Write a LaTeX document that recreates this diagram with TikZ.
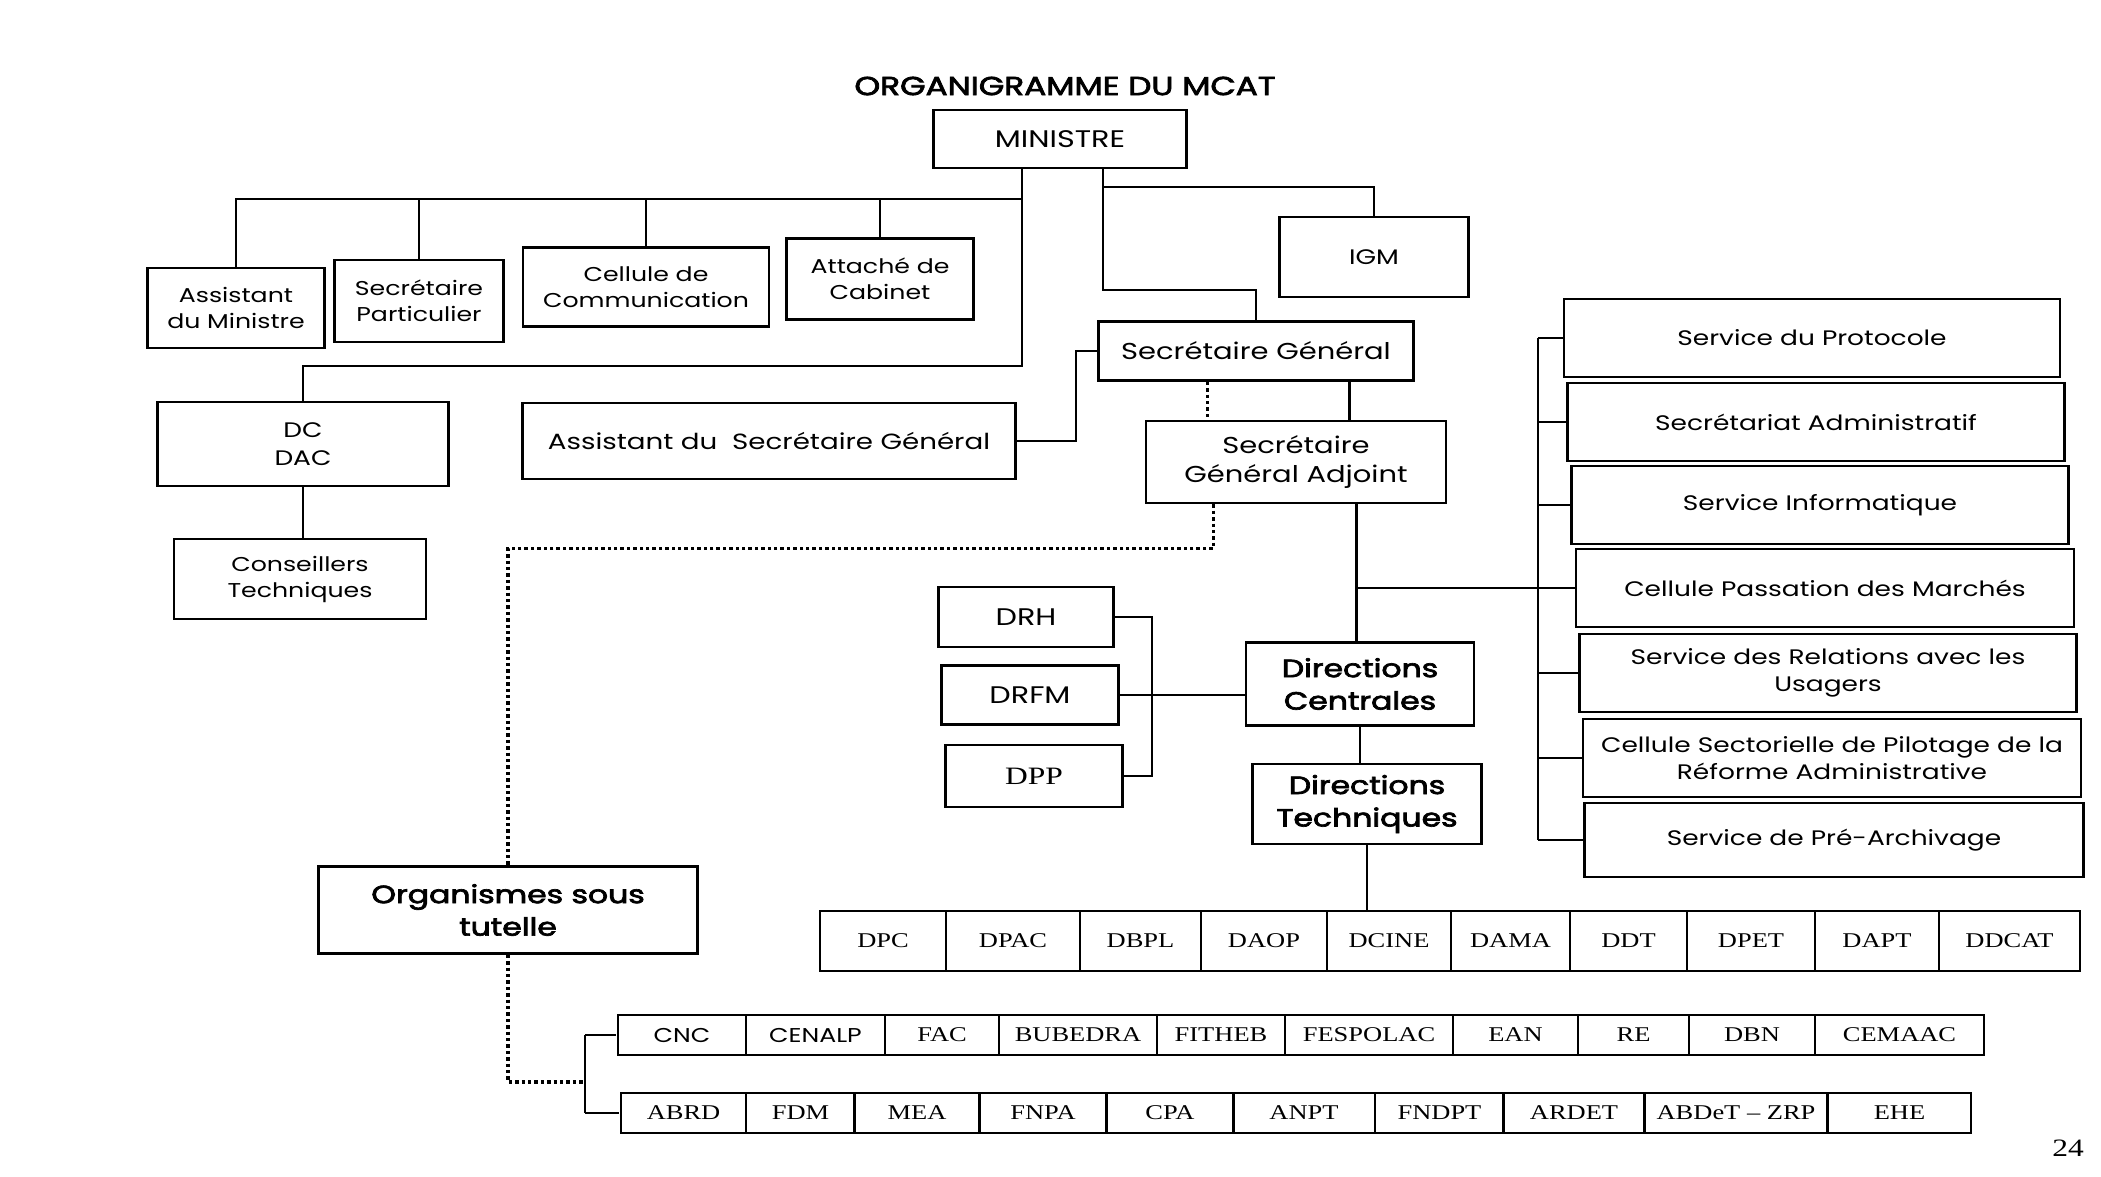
\documentclass[tikz,border=0pt]{standalone}
\usepackage{fontspec}
\setmainfont{Poppins}
\newfontfamily\mb{Poppins}[FakeBold=2.6]
\newfontfamily\tms{Liberation Serif}
\usetikzlibrary{calc}
\newcommand\fs[1]{\fontsize{#1}{\fpeval{1.3*#1}}\selectfont}
\begin{document}
\begin{tikzpicture}[x=0.7936508pt,y=-1pt,xscale=1.26,
  every node/.append style={transform shape},
  bx/.style={draw, line width=2.6pt, align=center, inner sep=0pt},
  wh/.style 2 args={minimum width={#1pt/1.26}, minimum height=#2pt},
  cell/.style={draw, line width=2.6pt, inner sep=0pt, minimum height=#1pt, font=\tms\fs{21}},
  scell/.style={cell=#1, font=\fs{20}},
  ln/.style={line width=2.2pt},
  dl/.style={line width=3.5pt, dash pattern=on 3.4pt off 3pt}]
\useasboundingbox (0,0) rectangle (2101,1176);
\fill[white] (0,0) rectangle (2101,1176);

% title and top
\node[font=\mb\fs{26}] (title) at (1065,86) {ORGANIGRAMME DU MCAT};
\node[bx, wh={253}{58}, font=\fs{24}] (min) at (1060,139) {MINISTRE};
\node[bx, wh={177}{80}, font=\fs{20}] (am) at (236,308) {Assistant\\du Ministre};
\node[bx, wh={169}{82}, font=\fs{20}] (sp) at (419,301) {Secrétaire\\Particulier};
\node[bx, wh={246}{79}, font=\fs{20}] (cc) at (646,287) {Cellule de\\Communication};
\node[bx, wh={187}{81}, font=\fs{20}] (ac) at (880,279) {Attaché de\\Cabinet};
\node[bx, wh={189}{80}, font=\fs{21}] (igm) at (1374,257) {IGM};
\node[bx, wh={291}{84}, font=\fs{21}] (dcdac) at (303,444) {DC\\DAC};
\node[bx, wh={252}{80}, font=\fs{20}] (ct) at (300,579) {Conseillers\\Techniques};
\node[bx, wh={493}{76}, font=\fs{22}] (asg) at (769,441) {Assistant du\ \ Secrétaire Général};
\node[bx, wh={315}{59}, font=\fs{23}] (sg) at (1256,351) {Secrétaire Général};
\node[bx, wh={300}{82}, font=\fs{23}] (sga) at (1296,462) {Secrétaire\\Général Adjoint};
\node[bx, wh={175}{60}, font=\fs{24}] (drh) at (1026,617) {DRH};
\node[bx, wh={177}{59}, font=\fs{24}] (drfm) at (1030,695) {DRFM};
\node[bx, wh={177}{62}, font=\tms\fs{25}] (dpp) at (1034,776) {DPP};
\node[bx, wh={228}{83}, font=\mb\fs{25}] (dc) at (1360,684) {Directions\\Centrales};
\node[bx, wh={229}{80}, font=\mb\fs{25}] (dt) at (1367,804) {Directions\\Techniques};
\node[bx, wh={379}{87}, font=\mb\fs{25}] (org) at (508,910) {Organismes sous\\tutelle};

% services
\node[bx, wh={496}{78}, font=\fs{21}] (s1) at (1812,338) {Service du Protocole};
\node[bx, wh={497}{78}, font=\fs{21}] (s2) at (1816,422) {Secrétariat Administratif};
\node[bx, wh={497}{78}, font=\fs{21}] (s3) at (1820,505) {Service Informatique};
\node[bx, wh={498}{78}, font=\fs{21}] (s4) at (1825,588) {Cellule Passation des Marchés};
\node[bx, wh={497}{78}, font=\fs{21}] (s5) at (1828,673) {Service des Relations avec les\\Usagers};
\node[bx, wh={498}{78}, font=\fs{21}] (s6) at (1832,758) {Cellule Sectorielle de Pilotage de la\\Réforme Administrative};
\node[bx, wh={499}{74}, font=\fs{21}] (s7) at (1834,840) {Service de Pré-Archivage};

% row 1 : directions techniques
\node[cell=60, minimum width={126pt/1.26}] (dpc) at (883,941) {DPC};
\node[cell=60, minimum width={134pt/1.26}] (dpac) at (1013,941) {DPAC};
\node[cell=60, minimum width={121pt/1.26}] (dbpl) at (1140.5,941) {DBPL};
\node[cell=60, minimum width={126pt/1.26}] (daop) at (1264,941) {DAOP};
\node[cell=60, minimum width={124pt/1.26}] (dcine) at (1389,941) {DCINE};
\node[cell=60, minimum width={119pt/1.26}] (dama) at (1510.5,941) {DAMA};
\node[cell=60, minimum width={117pt/1.26}] (ddt) at (1628.5,941) {DDT};
\node[cell=60, minimum width={128pt/1.26}] (dpet) at (1751,941) {DPET};
\node[cell=60, minimum width={124pt/1.26}] (dapt) at (1877,941) {DAPT};
\node[cell=60, minimum width={141pt/1.26}] (ddcat) at (2009.5,941) {DDCAT};

% row 2
\node[scell=40, minimum width={128pt/1.26}] (cnc) at (682,1035) {CNC};
\node[scell=40, minimum width={139pt/1.26}] (cenalp) at (815.5,1035) {CENALP};
\node[cell=40, minimum width={114pt/1.26}] (fac) at (942,1035) {FAC};
\node[cell=40, minimum width={158pt/1.26}] (bubedra) at (1078,1035) {BUBEDRA};
\node[cell=40, minimum width={128pt/1.26}] (fitheb) at (1221,1035) {FITHEB};
\node[cell=40, minimum width={168pt/1.26}] (fespolac) at (1369,1035) {FESPOLAC};
\node[cell=40, minimum width={125pt/1.26}] (ean) at (1515.5,1035) {EAN};
\node[cell=40, minimum width={111pt/1.26}] (re) at (1633.5,1035) {RE};
\node[cell=40, minimum width={126pt/1.26}] (dbn) at (1752,1035) {DBN};
\node[cell=40, minimum width={169pt/1.26}] (cemaac) at (1899.5,1035) {CEMAAC};

% row 3
\node[cell=40, minimum width={125pt/1.26}] (abrd) at (683.5,1113) {ABRD};
\node[cell=40, minimum width={109pt/1.26}] (fdm) at (800.5,1113) {FDM};
\node[cell=40, minimum width={124.5pt/1.26}] (mea) at (917,1113) {MEA};
\node[cell=40, minimum width={127pt/1.26}] (fnpa) at (1043,1113) {FNPA};
\node[cell=40, minimum width={126.4pt/1.26}] (cpa) at (1170,1113) {CPA};
\node[cell=40, minimum width={142pt/1.26}] (anpt) at (1304,1113) {ANPT};
\node[cell=40, minimum width={129pt/1.26}] (fndpt) at (1439.5,1113) {FNDPT};
\node[cell=40, minimum width={140.5pt/1.26}] (ardet) at (1574,1113) {ARDET};
\node[cell=40, minimum width={183.5pt/1.26}] (abdet) at (1736,1113) {ABDeT – ZRP};
\node[cell=40, minimum width={143pt/1.26}] (ehe) at (1899.5,1113) {EHE};

\node[font=\tms\fs{25}] (page) at (2068,1148) {24};

% ---- connectors ----
\coordinate (mL) at ($(min.south)+(-38,0)$);
\coordinate (mR) at ($(min.south)+(43,0)$);
\coordinate (bus) at ($(mL)+(0,30)$);
\draw[ln] (mL) -- ++(0,197) -| (dcdac.north);
\draw[ln] (am.north) |- (bus);
\draw[ln] (sp.north) -- (sp.north |- bus);
\draw[ln] (cc.north) -- (cc.north |- bus);
\draw[ln] (ac.north) -- (ac.north |- bus);
\draw[ln] (mR) |- ($(sg.north)+(0,-30)$) -- (sg.north);
\draw[ln] ($(mR)+(0,18)$) -| (igm.north);
\draw[ln] (dcdac.south) -- (dcdac.south |- ct.north);
\draw[ln] (asg.east) -- ++(59,0) |- (sg.west);

\coordinate (sgd) at ($(sg.south)+(-49,0)$);
\coordinate (sgs) at ($(sg.south)+(93,0)$);
\draw[dl] (sgd) -- (sgd |- sga.north);
\draw[ln] (sgs) -- (sgs |- sga.north);

\coordinate (sgad) at ($(sga.south)+(-83,0)$);
\coordinate (sgas) at ($(sga.south)+(60,0)$);
\draw[dl] (sgad) -- ++(0,44) -| (org.north);
\draw[ln] (sgas) -- (sgas |- dc.north);
\draw[ln] (sgas |- s4.west) -- (s4.west);
\draw[ln] (dc.south) -- (dc.south |- dt.north);
\draw[ln] (dt.south) -- (dt.south |- dcine.north);

\coordinate (brk) at (1152,0);
\draw[ln] (drh.east) -- (drh.east -| brk) -- (dpp.east -| brk) -- (dpp.east);
\draw[ln] (drfm.east) -- (drfm.east -| dc.west);

\coordinate (sb) at (1538,0);
\draw[ln] (s1.west -| sb) -- (s7.west -| sb);
\foreach \n in {s1,s2,s3,s4,s5,s6,s7} \draw[ln] (\n.west -| sb) -- (\n.west);

\coordinate (oj) at (585,1082);
\draw[dl] (org.south) |- (oj);
\draw[ln] (cnc.west -| oj) -- (abrd.west -| oj);
\draw[ln] (cnc.west -| oj) -- (cnc.west);
\draw[ln] (abrd.west -| oj) -- (abrd.west);
\end{tikzpicture}
\end{document}
